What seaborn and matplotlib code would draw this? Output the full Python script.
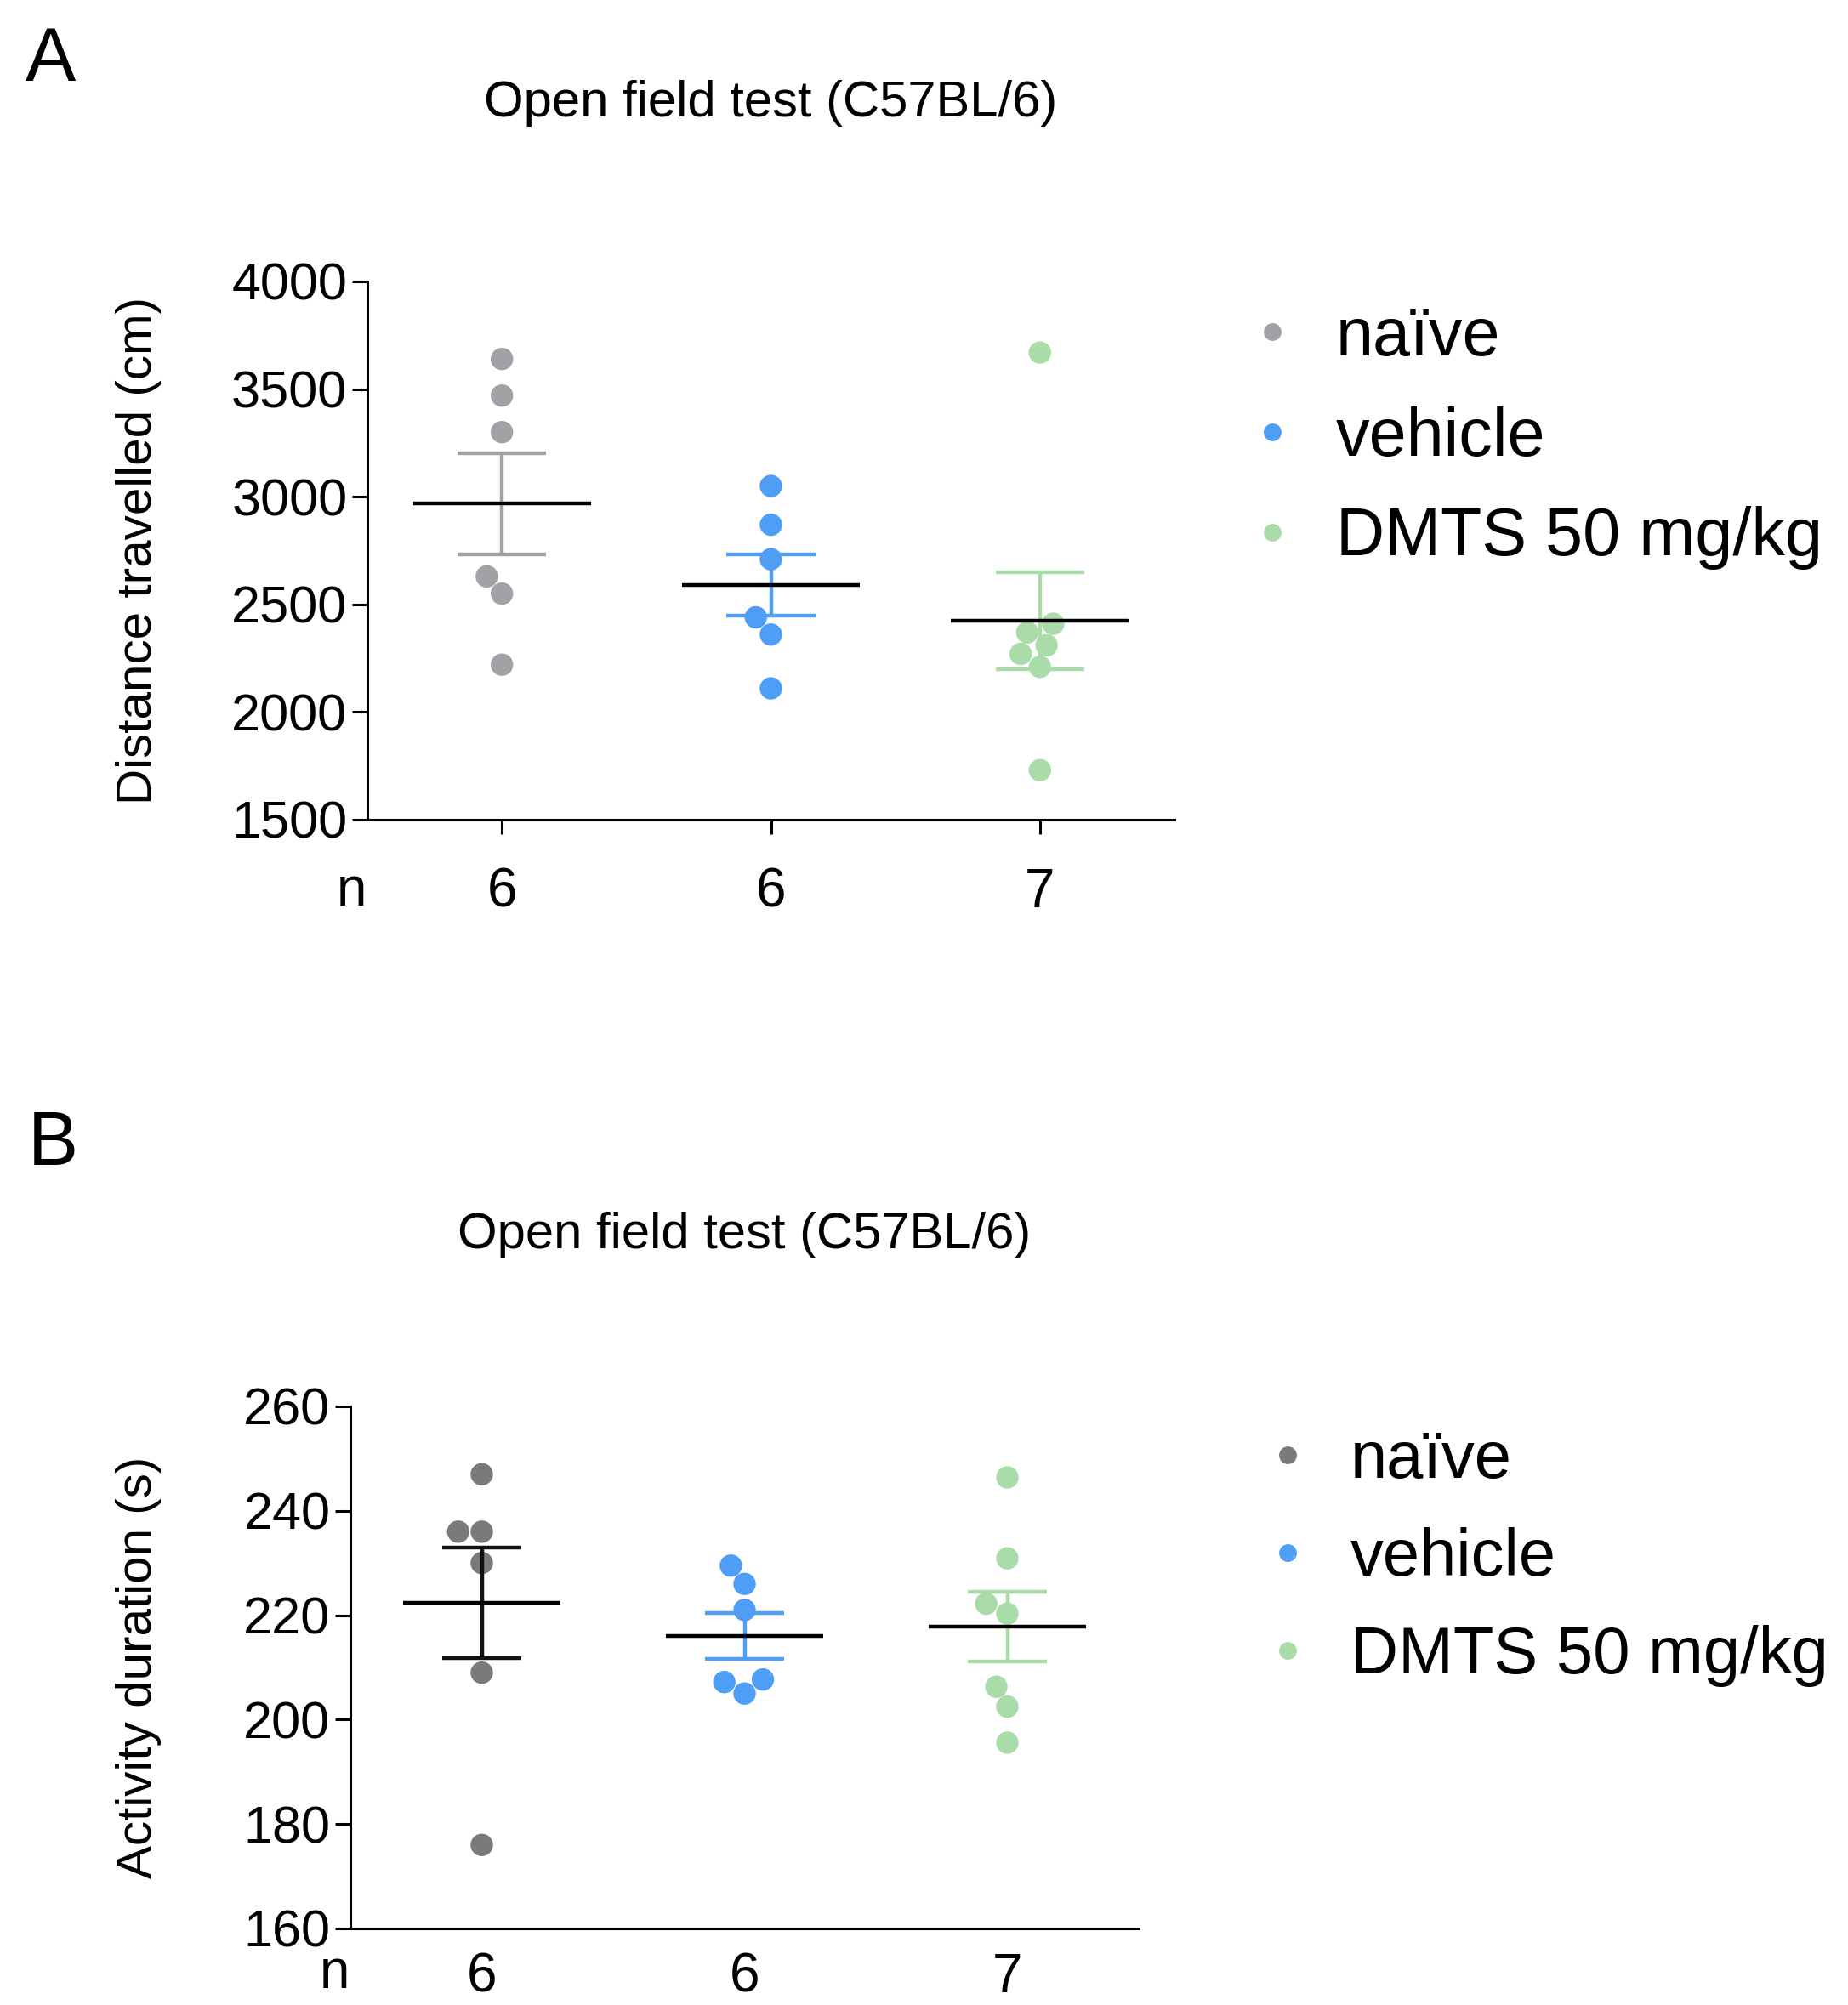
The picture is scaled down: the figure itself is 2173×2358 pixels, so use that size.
import numpy as np
import pandas as pd
import matplotlib
matplotlib.use("Agg")
import matplotlib.pyplot as plt
from matplotlib.lines import Line2D
import seaborn as sns

groups = ["naïve", "vehicle", "DMTS 50 mg/kg"]

# panel A: distance travelled (cm)
dist_naive = [3640, 3470, 3300, 2630, 2550, 2220]
dist_vehicle = [3050, 2870, 2710, 2440, 2360, 2110]
dist_dmts = [3670, 2410, 2370, 2310, 2270, 2210, 1730]

# panel B: activity duration (s)
act_naive = [247, 236, 236, 230, 209, 176]
act_vehicle = [229.5, 226, 221, 207.7, 207.2, 205]
act_dmts = [246.4, 230.9, 222.2, 220.3, 206.3, 202.5, 195.6]

colors_a = ["#a2a2a6", "#4f9ef6", "#a9dca9"]
colors_b = ["#7a7a7a", "#4f9ef6", "#a9dca9"]
err_colors_b = ["#111111", "#4f9ef6", "#a9dca9"]

title = "Open field test (C57BL/6)"

sns.set_style("white")
plt.rcParams["font.family"] = ["Liberation Sans", "DejaVu Sans"]
plt.rcParams["text.color"] = "black"
plt.rcParams["axes.labelcolor"] = "black"
plt.rcParams["xtick.color"] = "black"
plt.rcParams["ytick.color"] = "black"

W, H = 2173, 2358
fig = plt.figure(figsize=(W / 200, H / 200), dpi=200)


def panel(rect, values, colors, err_colors, ylim, yticks, ylabel, ylab_x,
          mean_half, cap_half, xtick_len, xtick_pad, n_y, title_pad):
    ax = fig.add_axes(rect)
    df = pd.DataFrame({
        "group": np.repeat(groups, [len(v) for v in values]),
        "value": np.concatenate(values),
    })
    sns.swarmplot(data=df, x="group", y="value", hue="group", order=groups,
                  palette=colors, size=9.5, linewidth=0, legend=False, ax=ax)
    for i, v in enumerate(values):
        v = np.asarray(v, dtype=float)
        m = v.mean()
        se = v.std(ddof=1) / np.sqrt(len(v))
        ax.errorbar(i, m, yerr=se, color=err_colors[i], lw=1.6, capsize=0,
                    zorder=3)
        ax.hlines([m - se, m + se], i - cap_half, i + cap_half,
                  color=err_colors[i], lw=1.6, zorder=3)
        ax.hlines(m, i - mean_half, i + mean_half, color="black", lw=1.6,
                  zorder=4)
    ax.set_xlim(-0.5, 2.5)
    ax.set_ylim(*ylim)
    ax.set_yticks(yticks)
    ax.set_xticks(range(len(groups)))
    ax.set_xticklabels([str(len(v)) for v in values])
    ax.tick_params(axis="y", left=True, length=6.5, width=1.1, pad=2,
                   labelsize=22, colors="black")
    ax.tick_params(axis="x", bottom=xtick_len > 0, length=xtick_len,
                   width=1.1, pad=xtick_pad, labelsize=23, colors="black")
    ax.set_xlabel("")
    ax.set_ylabel(ylabel, fontsize=21)
    ax.yaxis.set_label_coords(ylab_x, 0.5)
    sns.despine(ax=ax)
    for s in ["left", "bottom"]:
        ax.spines[s].set_linewidth(1.1)
        ax.spines[s].set_color("black")
    ax.text(-0.02, n_y, "n", transform=ax.transAxes, ha="center",
            va="center", fontsize=23)
    ax.set_title(title, fontsize=21.5, pad=title_pad)
    return ax


ax_a = panel([432 / W, 1 - 964 / H, 949 / W, 633 / H],
             [dist_naive, dist_vehicle, dist_dmts], colors_a, colors_a,
             (1500, 4000), [1500, 2000, 2500, 3000, 3500, 4000],
             "Distance travelled (cm)", -0.255, 0.33, 0.165, 6, 14, -0.133, 70)

ax_b = panel([412 / W, 1 - 2268 / H, 927 / W, 614 / H],
             [act_naive, act_vehicle, act_dmts], colors_b, err_colors_b,
             (160, 260), [160, 180, 200, 220, 240, 260],
             "Activity duration (s)", -0.239, 0.30, 0.15, 0, 10, -0.086, 67)


def legend(colors, x, y, size):
    handles = [Line2D([], [], marker="o", ls="", color=c, markersize=6.5)
               for c in colors]
    fig.legend(handles, groups, loc="upper left", bbox_to_anchor=(x, y),
               frameon=False, fontsize=size, handlelength=0.8,
               handletextpad=0.55, labelspacing=0.54, borderpad=0,
               borderaxespad=0)


legend(colors_a, 1464 / W, 1 - 360 / H, 28.5)
legend(colors_b, 1483 / W, 1 - 1681 / H, 28)

fig.text(30 / W, 1 - 30 / H, "A", fontsize=32, va="top", ha="left")
fig.text(33 / W, 1 - 1305 / H, "B", fontsize=32, va="top", ha="left")

fig.savefig("out.png", dpi=200)
